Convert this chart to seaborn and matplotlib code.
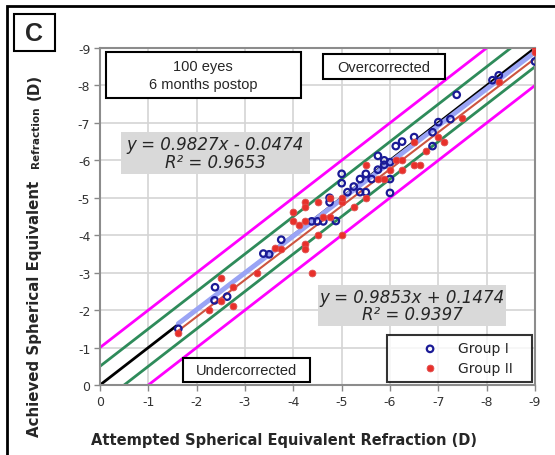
import numpy as np
import pandas as pd
import seaborn as sns
import matplotlib
matplotlib.use("Agg")
import matplotlib.pyplot as plt
from matplotlib.patches import Rectangle

# Group I (open blue circles) - attempted vs achieved SE (D)
g1_attempted = [-1.62, -2.38, -2.37, -2.63, -3.38, -3.50, -3.75, -4.38, -4.50, -4.62,
                -4.88, -4.75, -4.75, -5.00, -5.00, -5.12, -5.38, -5.38, -5.50, -5.50,
                -5.75, -5.75, -5.88, -6.00, -6.00, -6.00, -6.12, -6.25, -6.50, -6.88,
                -6.88, -7.00, -7.25, -7.38, -8.12, -8.25, -9.00, -5.25, -5.62, -5.88]
g1_achieved = [-1.50, -2.61, -2.26, -2.36, -3.51, -3.49, -3.88, -4.37, -4.37, -4.37,
               -4.38, -4.88, -5.00, -5.64, -5.39, -5.15, -5.50, -5.15, -5.64, -5.15,
               -6.12, -5.75, -6.00, -5.95, -5.50, -5.13, -6.38, -6.50, -6.62, -6.75,
               -6.38, -7.02, -7.10, -7.75, -8.14, -8.27, -8.64, -5.30, -5.50, -5.88]

# Group II (filled red dots)
g2_attempted = [-1.62, -2.25, -2.50, -2.50, -2.75, -2.75, -3.25, -3.62, -3.75, -4.00,
                -4.00, -4.12, -4.25, -4.25, -4.25, -4.25, -4.25, -4.38, -4.50, -4.50,
                -4.75, -4.75, -5.00, -5.00, -5.25, -5.50, -5.50, -5.75, -5.88, -6.00,
                -6.12, -6.25, -6.25, -6.50, -6.62, -6.50, -6.75, -7.00, -7.12, -7.50,
                -8.25, -9.00, -9.00, -4.62, -5.00]
g2_achieved = [-1.38, -2.00, -2.86, -2.24, -2.62, -2.12, -3.00, -3.65, -3.62, -4.63,
               -4.37, -4.26, -4.88, -4.75, -4.37, -3.77, -3.63, -3.00, -4.88, -4.00,
               -5.00, -4.50, -4.88, -4.00, -4.75, -5.00, -5.88, -5.50, -5.50, -5.75,
               -6.00, -6.00, -5.75, -5.88, -5.88, -6.50, -6.25, -6.62, -6.50, -7.12,
               -8.10, -9.00, -8.88, -4.50, -5.00]

# trendline coefficients printed on the chart
g1_slope, g1_intercept = 0.9827, -0.0474
g2_slope, g2_intercept = 0.9853, 0.1474

ticks = [0, -1, -2, -3, -4, -5, -6, -7, -8, -9]

W, H = 555, 456

def fx(x):
    return x / W

def fy(y):
    return 1 - y / H

sns.set_style("white")
plt.rcParams["font.family"] = ["DejaVu Sans"]

fig = plt.figure(figsize=(W / 100, H / 100), dpi=100)
ax = fig.add_axes([fx(100), fy(386), fx(535) - fx(100), fy(49) - fy(386)])

# reference lines: perfect, +-0.5 D, +-1 D
ref_x = np.array([0.0, -9.0])
for off, col in [(1.0, "#ff00ff"), (-1.0, "#ff00ff"), (0.5, "#2e8b5a"), (-0.5, "#2e8b5a")]:
    sns.lineplot(x=ref_x, y=ref_x - off, color=col, lw=2, ax=ax)
sns.lineplot(x=ref_x, y=ref_x, color="black", lw=2, ax=ax)

# trendlines
x1 = np.array([max(g1_attempted), min(g1_attempted)])
x2 = np.array([max(g2_attempted), min(g2_attempted)])
sns.lineplot(x=x1, y=g1_slope * x1 + g1_intercept, color="#9aa4f5", lw=3.5, ax=ax)
sns.lineplot(x=x2, y=g2_slope * x2 + g2_intercept, color="#cd5540", lw=1.5, ax=ax)

df1 = pd.DataFrame({"attempted": g1_attempted, "achieved": g1_achieved})
df2 = pd.DataFrame({"attempted": g2_attempted, "achieved": g2_achieved})
sns.scatterplot(data=df1, x="attempted", y="achieved", color="#1a1a96", facecolor="none",
                edgecolor="#1a1a96", linewidth=1.6, s=22, zorder=5, label="Group I", ax=ax)
sns.scatterplot(data=df2, x="attempted", y="achieved", color="#e8302a", edgecolor="#e05050",
                linewidth=0.6, s=24, zorder=6, label="Group II", ax=ax)

ax.set_xlim(0, -9)
ax.set_ylim(0, -9)
ax.set_xticks(ticks)
ax.set_yticks(ticks)
ax.set_xticklabels([str(t) for t in ticks], fontsize=9, color="#333333")
ax.set_yticklabels([str(t) for t in ticks], fontsize=9, color="#333333")
ax.tick_params(axis="both", direction="out", length=4, width=1, color="#888888", pad=3,
               bottom=True, left=True)
ax.grid(True, color="#d4d4d4", lw=1.2)
ax.set_axisbelow(True)
for sp in ax.spines.values():
    sp.set_color("#8c8c8c")
    sp.set_linewidth(1.5)
ax.set_xlabel("")
ax.set_ylabel("")

leg = ax.legend(loc="lower left", mode="expand",
                bbox_to_anchor=(fx(387), fy(383), fx(532) - fx(387), fy(338) - fy(383)),
                bbox_transform=fig.transFigure,
                frameon=True, fancybox=False, fontsize=10, borderaxespad=0,
                handlelength=5.2, handletextpad=-0.6, borderpad=0.5, labelspacing=0.4)
leg.get_frame().set_edgecolor("black")
leg.get_frame().set_linewidth(1.5)
leg.set_zorder(12)

# boxes with text
def box(x0, y0, x1, y1, face="white", edge="black", lw=1.5):
    fig.add_artist(Rectangle((fx(x0), fy(y1)), fx(x1) - fx(x0), fy(y0) - fy(y1),
                             transform=fig.transFigure, facecolor=face, edgecolor=edge,
                             lw=lw, zorder=10))

box(106, 53, 301, 99)
fig.text(fx(203), fy(76), "100 eyes\n6 months postop", ha="center", va="center",
         fontsize=10.5, family="Liberation Sans", linespacing=1.4, zorder=11)
box(323, 55, 445, 80)
fig.text(fx(384), fy(67.5), "Overcorrected", ha="center", va="center",
         fontsize=10.5, family="Liberation Sans", zorder=11)
box(183, 359, 310, 383)
fig.text(fx(246.5), fy(371), "Undercorrected", ha="center", va="center",
         fontsize=10.5, family="Liberation Sans", zorder=11)

box(121, 133, 310, 175, face="#d9d9d9", edge="none", lw=0)
fig.text(fx(215), fy(154), "y = 0.9827x - 0.0474\nR² = 0.9653", ha="center", va="center",
         fontsize=12, style="italic", linespacing=0.95, zorder=11)
box(318, 286, 506, 327, face="#d9d9d9", edge="none", lw=0)
fig.text(fx(412), fy(306.5), "y = 0.9853x + 0.1474\nR² = 0.9397", ha="center", va="center",
         fontsize=12, style="italic", linespacing=0.95, zorder=11)

# panel letter and outer frame
box(14, 15, 55, 52, lw=1.5)
fig.text(fx(34.5), fy(34), "C", ha="center", va="center", fontsize=18, weight="bold",
         family="Liberation Sans", zorder=11)
fig.add_artist(Rectangle((fx(7), fy(470)), 1, fy(7) - fy(470), transform=fig.transFigure,
                         facecolor="none", edgecolor="black", lw=2, clip_on=False))

# axis labels
fig.text(fx(284), fy(441), "Attempted Spherical Equivalent Refraction (D)", ha="center",
         va="center", fontsize=10.5, weight="bold")
fig.text(fx(39), fy(437), "Achieved Spherical Equivalent", rotation=90, rotation_mode="anchor",
         ha="left", va="baseline", fontsize=10.8, weight="bold")
fig.text(fx(39), fy(168), "Refraction", rotation=90, rotation_mode="anchor",
         ha="left", va="baseline", fontsize=7.5, weight="bold")
fig.text(fx(39), fy(100), "(D)", rotation=90, rotation_mode="anchor",
         ha="left", va="baseline", fontsize=10.8, weight="bold")

fig.savefig("out.png", dpi=100)
